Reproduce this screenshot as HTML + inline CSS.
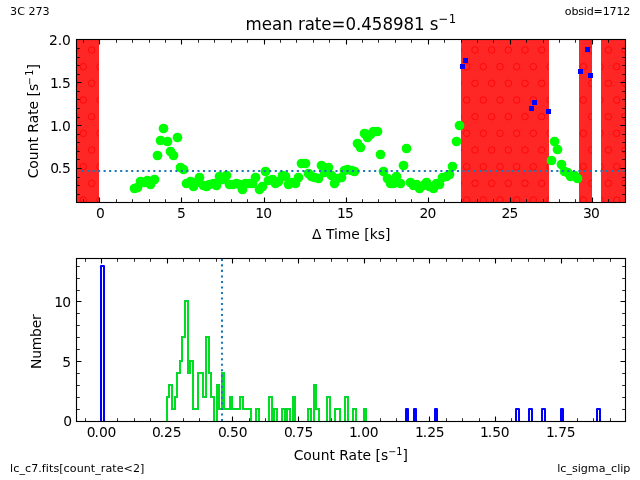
<!DOCTYPE html>
<html lang="en"><head><meta charset="utf-8"><title>lc_sigma_clip: 3C 273 obsid=1712</title>
<style>html,body{margin:0;padding:0;background:#fff;overflow:hidden}svg{display:block}text{font-family:'DejaVu Sans','Liberation Sans',sans-serif;fill:#000}.t10{font-size:13.889px}.t8{font-size:11.111px}.t12{font-size:16.667px}</style></head><body>
<svg width="640" height="480" viewBox="0 0 640 480">
<defs>
<clipPath id="c1"><rect x="76" y="39" width="549" height="163"/></clipPath>
<clipPath id="c2"><rect x="76" y="258" width="549" height="163"/></clipPath>
</defs>
<rect width="640" height="480" fill="#fff"/>
<g id="lightcurve">
<g clip-path="url(#c1)">
<path d="M76 39H99V202H76ZM461 39H549V202H461ZM579 39H592V202H579ZM601 39H625V202H601Z" fill="rgb(255,38,38)"/>
<clipPath id="cb"><path d="M76 39H99V202H76ZM461 39H549V202H461ZM579 39H592V202H579ZM601 39H625V202H601Z"/></clipPath>
<g clip-path="url(#cb)" fill="none" stroke="rgb(255,0,0)" stroke-width="0.8"><circle cx="75.00" cy="50.00" r="3.25"/><circle cx="91.67" cy="50.00" r="3.25"/><circle cx="458.33" cy="50.00" r="3.25"/><circle cx="475.00" cy="50.00" r="3.25"/><circle cx="491.67" cy="50.00" r="3.25"/><circle cx="508.33" cy="50.00" r="3.25"/><circle cx="525.00" cy="50.00" r="3.25"/><circle cx="541.67" cy="50.00" r="3.25"/><circle cx="575.00" cy="50.00" r="3.25"/><circle cx="591.67" cy="50.00" r="3.25"/><circle cx="608.33" cy="50.00" r="3.25"/><circle cx="625.00" cy="50.00" r="3.25"/><circle cx="83.33" cy="66.67" r="3.25"/><circle cx="100.00" cy="66.67" r="3.25"/><circle cx="466.67" cy="66.67" r="3.25"/><circle cx="483.33" cy="66.67" r="3.25"/><circle cx="500.00" cy="66.67" r="3.25"/><circle cx="516.67" cy="66.67" r="3.25"/><circle cx="533.33" cy="66.67" r="3.25"/><circle cx="550.00" cy="66.67" r="3.25"/><circle cx="583.33" cy="66.67" r="3.25"/><circle cx="600.00" cy="66.67" r="3.25"/><circle cx="616.67" cy="66.67" r="3.25"/><circle cx="75.00" cy="83.33" r="3.25"/><circle cx="91.67" cy="83.33" r="3.25"/><circle cx="458.33" cy="83.33" r="3.25"/><circle cx="475.00" cy="83.33" r="3.25"/><circle cx="491.67" cy="83.33" r="3.25"/><circle cx="508.33" cy="83.33" r="3.25"/><circle cx="525.00" cy="83.33" r="3.25"/><circle cx="541.67" cy="83.33" r="3.25"/><circle cx="575.00" cy="83.33" r="3.25"/><circle cx="591.67" cy="83.33" r="3.25"/><circle cx="608.33" cy="83.33" r="3.25"/><circle cx="625.00" cy="83.33" r="3.25"/><circle cx="83.33" cy="100.00" r="3.25"/><circle cx="100.00" cy="100.00" r="3.25"/><circle cx="466.67" cy="100.00" r="3.25"/><circle cx="483.33" cy="100.00" r="3.25"/><circle cx="500.00" cy="100.00" r="3.25"/><circle cx="516.67" cy="100.00" r="3.25"/><circle cx="533.33" cy="100.00" r="3.25"/><circle cx="550.00" cy="100.00" r="3.25"/><circle cx="583.33" cy="100.00" r="3.25"/><circle cx="600.00" cy="100.00" r="3.25"/><circle cx="616.67" cy="100.00" r="3.25"/><circle cx="75.00" cy="116.67" r="3.25"/><circle cx="91.67" cy="116.67" r="3.25"/><circle cx="458.33" cy="116.67" r="3.25"/><circle cx="475.00" cy="116.67" r="3.25"/><circle cx="491.67" cy="116.67" r="3.25"/><circle cx="508.33" cy="116.67" r="3.25"/><circle cx="525.00" cy="116.67" r="3.25"/><circle cx="541.67" cy="116.67" r="3.25"/><circle cx="575.00" cy="116.67" r="3.25"/><circle cx="591.67" cy="116.67" r="3.25"/><circle cx="608.33" cy="116.67" r="3.25"/><circle cx="625.00" cy="116.67" r="3.25"/><circle cx="83.33" cy="133.33" r="3.25"/><circle cx="100.00" cy="133.33" r="3.25"/><circle cx="466.67" cy="133.33" r="3.25"/><circle cx="483.33" cy="133.33" r="3.25"/><circle cx="500.00" cy="133.33" r="3.25"/><circle cx="516.67" cy="133.33" r="3.25"/><circle cx="533.33" cy="133.33" r="3.25"/><circle cx="550.00" cy="133.33" r="3.25"/><circle cx="583.33" cy="133.33" r="3.25"/><circle cx="600.00" cy="133.33" r="3.25"/><circle cx="616.67" cy="133.33" r="3.25"/><circle cx="75.00" cy="150.00" r="3.25"/><circle cx="91.67" cy="150.00" r="3.25"/><circle cx="458.33" cy="150.00" r="3.25"/><circle cx="475.00" cy="150.00" r="3.25"/><circle cx="491.67" cy="150.00" r="3.25"/><circle cx="508.33" cy="150.00" r="3.25"/><circle cx="525.00" cy="150.00" r="3.25"/><circle cx="541.67" cy="150.00" r="3.25"/><circle cx="575.00" cy="150.00" r="3.25"/><circle cx="591.67" cy="150.00" r="3.25"/><circle cx="608.33" cy="150.00" r="3.25"/><circle cx="625.00" cy="150.00" r="3.25"/><circle cx="83.33" cy="166.67" r="3.25"/><circle cx="100.00" cy="166.67" r="3.25"/><circle cx="466.67" cy="166.67" r="3.25"/><circle cx="483.33" cy="166.67" r="3.25"/><circle cx="500.00" cy="166.67" r="3.25"/><circle cx="516.67" cy="166.67" r="3.25"/><circle cx="533.33" cy="166.67" r="3.25"/><circle cx="550.00" cy="166.67" r="3.25"/><circle cx="583.33" cy="166.67" r="3.25"/><circle cx="600.00" cy="166.67" r="3.25"/><circle cx="616.67" cy="166.67" r="3.25"/><circle cx="75.00" cy="183.33" r="3.25"/><circle cx="91.67" cy="183.33" r="3.25"/><circle cx="458.33" cy="183.33" r="3.25"/><circle cx="475.00" cy="183.33" r="3.25"/><circle cx="491.67" cy="183.33" r="3.25"/><circle cx="508.33" cy="183.33" r="3.25"/><circle cx="525.00" cy="183.33" r="3.25"/><circle cx="541.67" cy="183.33" r="3.25"/><circle cx="575.00" cy="183.33" r="3.25"/><circle cx="591.67" cy="183.33" r="3.25"/><circle cx="608.33" cy="183.33" r="3.25"/><circle cx="625.00" cy="183.33" r="3.25"/><circle cx="83.33" cy="200.00" r="3.25"/><circle cx="100.00" cy="200.00" r="3.25"/><circle cx="466.67" cy="200.00" r="3.25"/><circle cx="483.33" cy="200.00" r="3.25"/><circle cx="500.00" cy="200.00" r="3.25"/><circle cx="516.67" cy="200.00" r="3.25"/><circle cx="533.33" cy="200.00" r="3.25"/><circle cx="550.00" cy="200.00" r="3.25"/><circle cx="583.33" cy="200.00" r="3.25"/><circle cx="600.00" cy="200.00" r="3.25"/><circle cx="616.67" cy="200.00" r="3.25"/></g>
<g fill="#00ff00"><circle cx="134.5" cy="188.5" r="4.86"/><circle cx="137.5" cy="187.5" r="4.86"/><circle cx="140.5" cy="181.5" r="4.86"/><circle cx="144.5" cy="182.5" r="4.86"/><circle cx="147.5" cy="180.5" r="4.86"/><circle cx="150.5" cy="184.5" r="4.86"/><circle cx="154.5" cy="179.5" r="4.86"/><circle cx="157.5" cy="155.5" r="4.86"/><circle cx="160.5" cy="140.5" r="4.86"/><circle cx="163.5" cy="128.5" r="4.86"/><circle cx="167.5" cy="141.5" r="4.86"/><circle cx="170.5" cy="151.5" r="4.86"/><circle cx="173.5" cy="155.5" r="4.86"/><circle cx="177.5" cy="137.5" r="4.86"/><circle cx="180.5" cy="167.5" r="4.86"/><circle cx="183.5" cy="169.5" r="4.86"/><circle cx="186.5" cy="183.5" r="4.86"/><circle cx="190.5" cy="181.5" r="4.86"/><circle cx="193.5" cy="186.5" r="4.86"/><circle cx="196.5" cy="182.5" r="4.86"/><circle cx="199.5" cy="177.5" r="4.86"/><circle cx="203.5" cy="185.5" r="4.86"/><circle cx="206.5" cy="186.5" r="4.86"/><circle cx="209.5" cy="184.5" r="4.86"/><circle cx="213.5" cy="183.5" r="4.86"/><circle cx="216.5" cy="185.5" r="4.86"/><circle cx="219.5" cy="176.5" r="4.86"/><circle cx="222.5" cy="179.5" r="4.86"/><circle cx="226.5" cy="175.5" r="4.86"/><circle cx="229.5" cy="184.5" r="4.86"/><circle cx="232.5" cy="184.5" r="4.86"/><circle cx="236.5" cy="183.5" r="4.86"/><circle cx="239.5" cy="184.5" r="4.86"/><circle cx="242.5" cy="189.5" r="4.86"/><circle cx="245.5" cy="183.5" r="4.86"/><circle cx="249.5" cy="183.5" r="4.86"/><circle cx="252.5" cy="183.5" r="4.86"/><circle cx="255.5" cy="177.5" r="4.86"/><circle cx="259.5" cy="189.5" r="4.86"/><circle cx="262.5" cy="186.5" r="4.86"/><circle cx="265.5" cy="171.5" r="4.86"/><circle cx="268.5" cy="180.5" r="4.86"/><circle cx="272.5" cy="179.5" r="4.86"/><circle cx="275.5" cy="183.5" r="4.86"/><circle cx="278.5" cy="181.5" r="4.86"/><circle cx="282.5" cy="175.5" r="4.86"/><circle cx="285.5" cy="176.5" r="4.86"/><circle cx="288.5" cy="184.5" r="4.86"/><circle cx="291.5" cy="182.5" r="4.86"/><circle cx="295.5" cy="183.5" r="4.86"/><circle cx="298.5" cy="177.5" r="4.86"/><circle cx="301.5" cy="163.5" r="4.86"/><circle cx="305.5" cy="163.5" r="4.86"/><circle cx="308.5" cy="173.5" r="4.86"/><circle cx="311.5" cy="176.5" r="4.86"/><circle cx="314.5" cy="177.5" r="4.86"/><circle cx="318.5" cy="178.5" r="4.86"/><circle cx="321.5" cy="165.5" r="4.86"/><circle cx="324.5" cy="172.5" r="4.86"/><circle cx="328.5" cy="167.5" r="4.86"/><circle cx="331.5" cy="175.5" r="4.86"/><circle cx="334.5" cy="183.5" r="4.86"/><circle cx="337.5" cy="178.5" r="4.86"/><circle cx="341.5" cy="177.5" r="4.86"/><circle cx="344.5" cy="170.5" r="4.86"/><circle cx="347.5" cy="169.5" r="4.86"/><circle cx="351.5" cy="170.5" r="4.86"/><circle cx="354.5" cy="171.5" r="4.86"/><circle cx="357.5" cy="143.5" r="4.86"/><circle cx="360.5" cy="147.5" r="4.86"/><circle cx="364.5" cy="133.5" r="4.86"/><circle cx="367.5" cy="137.5" r="4.86"/><circle cx="370.5" cy="134.5" r="4.86"/><circle cx="373.5" cy="131.5" r="4.86"/><circle cx="377.5" cy="131.5" r="4.86"/><circle cx="380.5" cy="154.5" r="4.86"/><circle cx="383.5" cy="171.5" r="4.86"/><circle cx="387.5" cy="178.5" r="4.86"/><circle cx="390.5" cy="183.5" r="4.86"/><circle cx="393.5" cy="183.5" r="4.86"/><circle cx="396.5" cy="176.5" r="4.86"/><circle cx="400.5" cy="183.5" r="4.86"/><circle cx="403.5" cy="165.5" r="4.86"/><circle cx="406.5" cy="148.5" r="4.86"/><circle cx="410.5" cy="182.5" r="4.86"/><circle cx="413.5" cy="185.5" r="4.86"/><circle cx="416.5" cy="184.5" r="4.86"/><circle cx="419.5" cy="188.5" r="4.86"/><circle cx="423.5" cy="185.5" r="4.86"/><circle cx="426.5" cy="182.5" r="4.86"/><circle cx="429.5" cy="186.5" r="4.86"/><circle cx="433.5" cy="188.5" r="4.86"/><circle cx="436.5" cy="183.5" r="4.86"/><circle cx="439.5" cy="184.5" r="4.86"/><circle cx="442.5" cy="177.5" r="4.86"/><circle cx="446.5" cy="176.5" r="4.86"/><circle cx="449.5" cy="174.5" r="4.86"/><circle cx="452.5" cy="166.5" r="4.86"/><circle cx="456.5" cy="141.5" r="4.86"/><circle cx="459.5" cy="125.5" r="4.86"/><circle cx="551.5" cy="160.5" r="4.86"/><circle cx="554.5" cy="141.5" r="4.86"/><circle cx="557.5" cy="149.5" r="4.86"/><circle cx="561.5" cy="164.5" r="4.86"/><circle cx="564.5" cy="171.5" r="4.86"/><circle cx="567.5" cy="172.5" r="4.86"/><circle cx="570.5" cy="176.5" r="4.86"/><circle cx="574.5" cy="175.5" r="4.86"/><circle cx="577.5" cy="178.5" r="4.86"/></g>
<g fill="#0000ff"><rect x="460" y="64" width="5" height="5"/><rect x="463" y="58" width="5" height="5"/><rect x="529" y="106" width="5" height="5"/><rect x="532" y="100" width="5" height="5"/><rect x="546" y="109" width="5" height="5"/><rect x="578" y="69" width="5" height="5"/><rect x="585" y="47" width="5" height="5"/><rect x="588" y="73" width="5" height="5"/></g>
<line x1="76" y1="171" x2="625" y2="171" stroke="#1f77b4" stroke-width="2.083" stroke-dasharray="2.083 3.4375"/>
</g>
<path d="M99.5 202.5v-5.0M99.5 39.5v5.0M181.5 202.5v-5.0M181.5 39.5v5.0M264.5 202.5v-5.0M264.5 39.5v5.0M346.5 202.5v-5.0M346.5 39.5v5.0M428.5 202.5v-5.0M428.5 39.5v5.0M510.5 202.5v-5.0M510.5 39.5v5.0M592.5 202.5v-5.0M592.5 39.5v5.0M76.5 168.5h5.0M625.5 168.5h-5.0M76.5 125.5h5.0M625.5 125.5h-5.0M76.5 82.5h5.0M625.5 82.5h-5.0M76.5 39.5h5.0M625.5 39.5h-5.0" stroke="#000" stroke-width="1.111" fill="none"/>
<path d="M83.5 202.5v-3.3M83.5 39.5v3.3M116.5 202.5v-3.3M116.5 39.5v3.3M132.5 202.5v-3.3M132.5 39.5v3.3M149.5 202.5v-3.3M149.5 39.5v3.3M165.5 202.5v-3.3M165.5 39.5v3.3M198.5 202.5v-3.3M198.5 39.5v3.3M214.5 202.5v-3.3M214.5 39.5v3.3M231.5 202.5v-3.3M231.5 39.5v3.3M247.5 202.5v-3.3M247.5 39.5v3.3M280.5 202.5v-3.3M280.5 39.5v3.3M296.5 202.5v-3.3M296.5 39.5v3.3M313.5 202.5v-3.3M313.5 39.5v3.3M329.5 202.5v-3.3M329.5 39.5v3.3M362.5 202.5v-3.3M362.5 39.5v3.3M378.5 202.5v-3.3M378.5 39.5v3.3M395.5 202.5v-3.3M395.5 39.5v3.3M411.5 202.5v-3.3M411.5 39.5v3.3M444.5 202.5v-3.3M444.5 39.5v3.3M461.5 202.5v-3.3M461.5 39.5v3.3M477.5 202.5v-3.3M477.5 39.5v3.3M493.5 202.5v-3.3M493.5 39.5v3.3M526.5 202.5v-3.3M526.5 39.5v3.3M543.5 202.5v-3.3M543.5 39.5v3.3M559.5 202.5v-3.3M559.5 39.5v3.3M575.5 202.5v-3.3M575.5 39.5v3.3M608.5 202.5v-3.3M608.5 39.5v3.3M76.5 194.5h3.3M625.5 194.5h-3.3M76.5 185.5h3.3M625.5 185.5h-3.3M76.5 177.5h3.3M625.5 177.5h-3.3M76.5 159.5h3.3M625.5 159.5h-3.3M76.5 151.5h3.3M625.5 151.5h-3.3M76.5 142.5h3.3M625.5 142.5h-3.3M76.5 134.5h3.3M625.5 134.5h-3.3M76.5 117.5h3.3M625.5 117.5h-3.3M76.5 108.5h3.3M625.5 108.5h-3.3M76.5 99.5h3.3M625.5 99.5h-3.3M76.5 91.5h3.3M625.5 91.5h-3.3M76.5 74.5h3.3M625.5 74.5h-3.3M76.5 65.5h3.3M625.5 65.5h-3.3M76.5 57.5h3.3M625.5 57.5h-3.3M76.5 48.5h3.3M625.5 48.5h-3.3" stroke="#000" stroke-width="0.833" fill="none"/>
<rect x="76.5" y="39.5" width="549.0" height="163.0" fill="none" stroke="#000" stroke-width="1.111"/>
<text class="t10" x="100.50" y="218.00" text-anchor="middle">0</text>
<text class="t10" x="181.50" y="218.00" text-anchor="middle">5</text>
<text class="t10" x="263.70" y="218.00" text-anchor="middle" dx="0 -0.84">10</text>
<text class="t10" x="345.30" y="218.00" text-anchor="middle" dx="0 -0.84">15</text>
<text class="t10" x="427.80" y="218.00" text-anchor="middle" dx="0 -0.84">20</text>
<text class="t10" x="509.90" y="218.00" text-anchor="middle" dx="0 -0.84">25</text>
<text class="t10" x="591.40" y="218.00" text-anchor="middle" dx="0 -0.84">30</text>
<text class="t10" x="70.85" y="172.80" text-anchor="end" dx="0 -1.39 -0.11">0.5</text>
<text class="t10" x="70.85" y="130.80" text-anchor="end" dx="0 -0.94 -0.26">1.0</text>
<text class="t10" x="70.85" y="87.80" text-anchor="end" dx="0 -0.94 -0.26">1.5</text>
<text class="t10" x="70.85" y="44.80" text-anchor="end" dx="0 -0.04 -0.26">2.0</text>
<text class="t10" x="351.2" y="238.6" text-anchor="middle">Δ Time [ks]</text>
<text class="t10" transform="translate(38.1 121.2) rotate(-90)" text-anchor="middle">Count Rate [s<tspan dy="-5.2" dx="-1.5 1.5" font-size="9.72px">−1</tspan><tspan dy="5.2">]</tspan></text>
<text class="t12" transform="translate(350.9 30) scale(1 1.075)" text-anchor="middle" letter-spacing="-0.045">mean rate=0.458981 s<tspan dy="-6.6" dx="0 0.6" font-size="11.67px">−1</tspan></text>
</g>
<g id="histogram">
<path d="M101.5 421.5v-5.0M101.5 258.5v5.0M167.5 421.5v-5.0M167.5 258.5v5.0M232.5 421.5v-5.0M232.5 258.5v5.0M298.5 421.5v-5.0M298.5 258.5v5.0M364.5 421.5v-5.0M364.5 258.5v5.0M429.5 421.5v-5.0M429.5 258.5v5.0M495.5 421.5v-5.0M495.5 258.5v5.0M561.5 421.5v-5.0M561.5 258.5v5.0M76.5 421.5h5.0M625.5 421.5h-5.0M76.5 361.5h5.0M625.5 361.5h-5.0M76.5 301.5h5.0M625.5 301.5h-5.0" stroke="#000" stroke-width="1.111" fill="none"/>
<path d="M85.5 421.5v-3.3M85.5 258.5v3.3M117.5 421.5v-3.3M117.5 258.5v3.3M134.5 421.5v-3.3M134.5 258.5v3.3M150.5 421.5v-3.3M150.5 258.5v3.3M183.5 421.5v-3.3M183.5 258.5v3.3M199.5 421.5v-3.3M199.5 258.5v3.3M216.5 421.5v-3.3M216.5 258.5v3.3M249.5 421.5v-3.3M249.5 258.5v3.3M265.5 421.5v-3.3M265.5 258.5v3.3M282.5 421.5v-3.3M282.5 258.5v3.3M314.5 421.5v-3.3M314.5 258.5v3.3M331.5 421.5v-3.3M331.5 258.5v3.3M347.5 421.5v-3.3M347.5 258.5v3.3M380.5 421.5v-3.3M380.5 258.5v3.3M396.5 421.5v-3.3M396.5 258.5v3.3M413.5 421.5v-3.3M413.5 258.5v3.3M446.5 421.5v-3.3M446.5 258.5v3.3M462.5 421.5v-3.3M462.5 258.5v3.3M479.5 421.5v-3.3M479.5 258.5v3.3M511.5 421.5v-3.3M511.5 258.5v3.3M528.5 421.5v-3.3M528.5 258.5v3.3M544.5 421.5v-3.3M544.5 258.5v3.3M577.5 421.5v-3.3M577.5 258.5v3.3M593.5 421.5v-3.3M593.5 258.5v3.3M610.5 421.5v-3.3M610.5 258.5v3.3M76.5 409.5h3.3M625.5 409.5h-3.3M76.5 397.5h3.3M625.5 397.5h-3.3M76.5 385.5h3.3M625.5 385.5h-3.3M76.5 373.5h3.3M625.5 373.5h-3.3M76.5 349.5h3.3M625.5 349.5h-3.3M76.5 337.5h3.3M625.5 337.5h-3.3M76.5 325.5h3.3M625.5 325.5h-3.3M76.5 313.5h3.3M625.5 313.5h-3.3M76.5 290.5h3.3M625.5 290.5h-3.3M76.5 278.5h3.3M625.5 278.5h-3.3M76.5 266.5h3.3M625.5 266.5h-3.3" stroke="#000" stroke-width="0.833" fill="none"/>
<g clip-path="url(#c2)">
<path id="hb" d="M101 421V266H104V421M167 421V397H169V385H172V409H175V397H177V373H180V361H182V337H185V301H188V373H190V361H193V409H196V409H198V373H201V373H203V397H206V337H209V373H211V397H214V421M217 421V385H219V409H222V373H224V409H227V409H230V397H232V409H235V409H238V409H240V397H243V409H245V409H248V409H251V421M256 421V409H259V421M269 421V397H272V421M274 421V409H277V421M282 421V409H285V421M287 421V409H290V421M293 421V397H295V421M308 421V409H311V421M314 421V385H316V409H319V421M327 421V397H330V421M335 421V409H337V409H340V421M345 421V397H348V421M353 421V409H356V421M364 421V409H366V421M406 421V409H408V421M414 421V409H416V421M435 421V409H437V421M516 421V409H519V421M529 421V409H532V421M542 421V409H545V421M561 421V409H563V421M597 421V409H600V421" fill="none" stroke="#0000ff" stroke-width="2" stroke-linejoin="round"/>
<path id="hg" d="M167 421V397H169V385H172V409H175V397H177V373H180V361H182V337H185V301H188V373H190V361H193V409H196V409H198V373H201V373H203V397H206V337H209V373H211V397H214V421M217 421V385H219V409H222V373H224V409H227V409H230V397H232V409H235V409H238V409H240V397H243V409H245V409H248V409H251V421M256 421V409H259V421M269 421V397H272V421M274 421V409H277V421M282 421V409H285V421M287 421V409H290V421M293 421V397H295V421M308 421V409H311V421M314 421V385H316V409H319V421M327 421V397H330V421M335 421V409H337V409H340V421M345 421V397H348V421M353 421V409H356V421M364 421V409H366V421" fill="none" stroke="#00ff00" stroke-opacity="0.87" stroke-width="2" stroke-linejoin="round"/>
<line x1="222" y1="421" x2="222" y2="258" stroke="#1f77b4" stroke-width="2.083" stroke-dasharray="2.083 3.4375"/>
</g>
<rect x="76.5" y="258.5" width="549.0" height="163.0" fill="none" stroke="#000" stroke-width="1.111"/>
<text class="t10" x="101.55" y="437.00" text-anchor="middle" dx="0 -1.04 -0.11 -0.24">0.00</text>
<text class="t10" x="166.75" y="437.00" text-anchor="middle" dx="0 -1.04 -0.11 -0.24">0.25</text>
<text class="t10" x="232.75" y="437.00" text-anchor="middle" dx="0 -1.04 -0.11 -0.24">0.50</text>
<text class="t10" x="298.65" y="437.00" text-anchor="middle" dx="0 -1.04 -0.11 -0.24">0.75</text>
<text class="t10" x="363.75" y="437.00" text-anchor="middle" dx="0 -0.94 -0.11 -0.24">1.00</text>
<text class="t10" x="429.75" y="437.00" text-anchor="middle" dx="0 -0.94 -0.11 -0.24">1.25</text>
<text class="t10" x="494.75" y="437.00" text-anchor="middle" dx="0 -0.94 -0.11 -0.24">1.50</text>
<text class="t10" x="560.75" y="437.00" text-anchor="middle" dx="0 -0.94 -0.11 -0.24">1.75</text>
<text class="t10" x="72.00" y="426.05" text-anchor="end">0</text>
<text class="t10" x="71.10" y="366.80" text-anchor="end">5</text>
<text class="t10" x="71.10" y="306.80" text-anchor="end" dx="0 -0.84">10</text>
<text class="t10" x="350.8" y="460" text-anchor="middle">Count Rate [s<tspan dy="-5.2" font-size="9.72px">−1</tspan><tspan dy="5.2">]</tspan></text>
<text class="t10" transform="translate(40.8 341.7) rotate(-90)" text-anchor="middle" letter-spacing="-0.18">Number</text>
</g>
<text class="t8" x="10.1" y="14.6">3C 273</text>
<text class="t8" x="630.4" y="14.6" text-anchor="end" textLength="65.6" lengthAdjust="spacing">obsid=1712</text>
<text class="t8" x="10.1" y="472" letter-spacing="0.054">lc_c7.fits[count_rate&lt;2]</text>
<text class="t8" x="630.4" y="472" text-anchor="end">lc_sigma_clip</text>
</svg></body></html>
